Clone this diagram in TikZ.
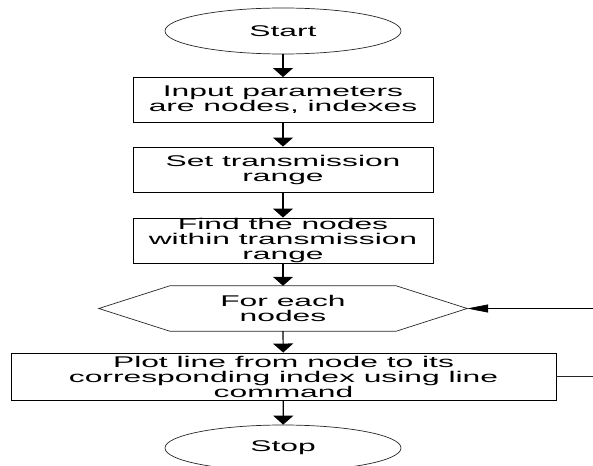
\documentclass[tikz,border=0pt]{standalone}
\usepackage{fontspec}
\newfontfamily\flowfont[FakeStretch=2.05]{Liberation Sans}
\usetikzlibrary{shapes,arrows.meta,positioning}

\tikzset{
    flowtext/.style={
        font=\flowfont\fontsize{15.5}{15}\selectfont,
        align=center,
        inner sep=0pt
    },
    terminal/.style={
        flowtext,
        ellipse,
        draw=black!85,
        line width=0.7pt,
        minimum width=236pt,
        minimum height=46pt
    },
    process/.style={
        flowtext,
        rectangle,
        draw,
        line width=0.9pt,
        minimum width=300pt,
        minimum height=45pt
    },
    loopbox/.style={
        flowtext,
        rectangle,
        minimum width=226pt,
        minimum height=45pt
    },
    flowdown/.style={
        -{Triangle[width=20pt,length=9pt]},
        line width=1.2pt
    },
    flowleft/.style={
        -{Triangle[width=8pt,length=21pt]},
        line width=0.7pt
    }
}

\begin{document}
\begin{tikzpicture}[x=1pt,y=1pt]
    \useasboundingbox (0,0) rectangle (593,-465);

    % flow chart steps
    \node[terminal] (start) at (283,-31) {Start};
    \node[process] (input) at (283,-100) {Input parameters\\are nodes, indexes};
    \node[process] (range) at (283,-169.5) {Set transmission\\range};
    \node[process] (find) at (283,-240.5) {Find the nodes\\within transmission\\range};
    \node[loopbox] (each) at (283,-308.5) {For each\\nodes};
    \node[
        process,
        minimum width=545pt,
        minimum height=47pt
        ] (plot) at (283.5,-376.5) {Plot line from node to its\\corresponding index using line\\command};
    \node[terminal] (stop) at (283,-448) {Stop};

    % hexagon round the loop node
    \coordinate (eachL) at ([xshift=-71pt]each.west);
    \coordinate (eachR) at ([xshift=71pt]each.east);
    \draw[
        draw=black!85,
        line width=0.7pt
        ] (each.north west) -- (eachL) -- (each.south west) -- (each.south east)
        -- (eachR) -- (each.north east) -- cycle;

    % arrows
    \draw[flowdown] (start) -- (input);
    \draw[flowdown] (input) -- (range);
    \draw[flowdown] (range) -- (find);
    \draw[flowdown] (find) -- (each.north);
    \draw[flowdown] (each.south) -- (plot);
    \draw[flowdown] (plot) -- (stop);

    % loop back
    \coordinate (back) at (593,-308.5);
    \coordinate (out) at (593,-376.5);
    \draw[flowleft] (back) -- (eachR);
    \draw[
        draw=black!85,
        line width=0.7pt
        ] (plot.east) -- (out);

\end{tikzpicture}
\end{document}
